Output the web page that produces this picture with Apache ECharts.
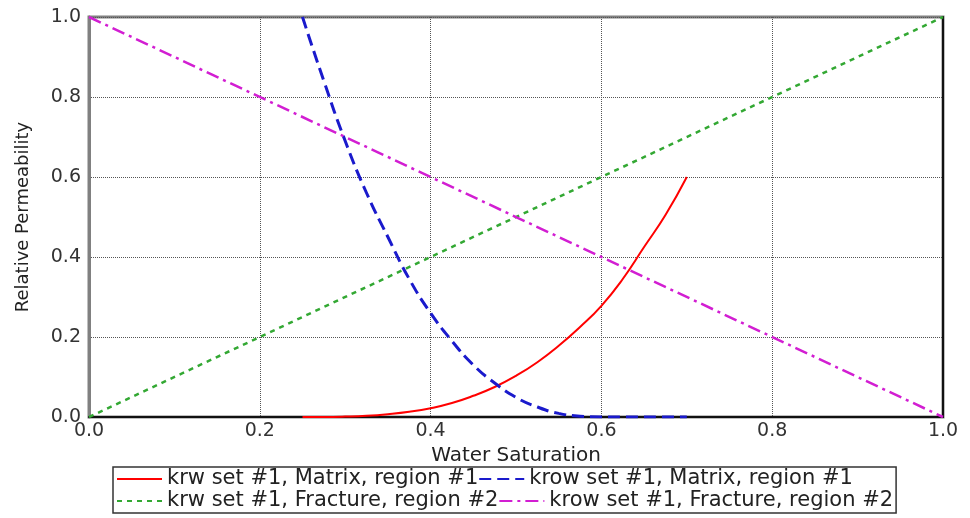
<!DOCTYPE html>
<html>
<head>
<meta charset="utf-8">
<script src="https://cdn.jsdelivr.net/npm/echarts@6/dist/echarts.min.js"></script>
<style>
  html, body { margin: 0; padding: 0; background: #fff; }
  #chart { width: 970px; height: 518px; }
</style>
</head>
<body>
<div id="chart"></div>
<script>
// water saturation points for the matrix curves
var swMatrix = [0.25, 0.275, 0.3, 0.325, 0.35, 0.375, 0.4, 0.425, 0.45, 0.475, 0.5,
                0.525, 0.55, 0.575, 0.6, 0.625, 0.65, 0.675, 0.7];
var krwMatrix = [0, 0.0001, 0.001, 0.003, 0.007, 0.013, 0.022, 0.035, 0.053, 0.075, 0.103,
                 0.137, 0.178, 0.225, 0.278, 0.345, 0.425, 0.505, 0.6];
var krowMatrix = [1.0, 0.84, 0.69, 0.56, 0.45, 0.345, 0.26, 0.19, 0.13, 0.085, 0.049,
                  0.025, 0.009, 0.002, 0, 0, 0, 0, 0];
// fracture curves (straight lines)
var swFracture = [0, 1];
var krwFracture = [0, 1];
var krowFracture = [1, 0];

var seriesNames = [
  'krw set #1, Matrix, region #1',
  'krow set #1, Matrix, region #1',
  'krw set #1, Fracture, region #2',
  'krow set #1, Fracture, region #2'
];

function pairs(xs, ys) {
  var out = [];
  for (var i = 0; i < xs.length; i++) out.push([xs[i], ys[i]]);
  return out;
}

var labelFont = 'DejaVu Sans';

var chart = echarts.init(document.getElementById('chart'));
var option = {
  backgroundColor: '#fff',
  animation: false,
  grid: {
    left: 89, right: 27, top: 17, bottom: 101,
    show: true, borderColor: '#808080', borderWidth: 3
  },
  legend: {
    left: 113, top: 467,
    width: 820,
    itemGap: 0,
    itemWidth: 45,
    itemHeight: 14,
    padding: [1, 3, 1, 3],
    borderColor: '#333',
    borderWidth: 1.5,
    itemStyle: { opacity: 0 },
    textStyle: { fontFamily: labelFont, fontSize: 21, color: '#222', lineHeight: 22 },
    data: seriesNames
  },
  xAxis: {
    type: 'value', min: 0, max: 1, interval: 0.2,
    name: 'Water Saturation', nameLocation: 'middle', nameGap: 22,
    nameTextStyle: { fontFamily: labelFont, fontSize: 20, color: '#222' },
    axisLine: { show: true, lineStyle: { color: '#111', width: 2 } },
    axisTick: { show: false },
    axisLabel: {
      margin: 5, fontFamily: labelFont, fontSize: 19, color: '#333',
      formatter: function (v) { return v.toFixed(1); }
    },
    splitLine: { show: true, lineStyle: { type: 'dotted', color: '#555', width: 1 } }
  },
  yAxis: [{
    type: 'value', min: 0, max: 1, interval: 0.2,
    name: 'Relative Permeability', nameLocation: 'middle', nameGap: 57,
    nameTextStyle: { fontFamily: labelFont, fontSize: 18, color: '#222' },
    axisLine: { show: true, lineStyle: { color: '#808080', width: 3 } },
    axisTick: { show: false },
    axisLabel: {
      margin: 8, fontFamily: labelFont, fontSize: 19, color: '#333',
      formatter: function (v) { return v.toFixed(1); }
    },
    splitLine: { show: true, lineStyle: { type: 'dotted', color: '#555', width: 1 } }
  }, {
    type: 'value', min: 0, max: 1, position: 'right',
    axisLine: { show: true, lineStyle: { color: '#111', width: 2 } },
    axisTick: { show: false }, axisLabel: { show: false }, splitLine: { show: false }
  }],
  series: [{
    name: seriesNames[0], type: 'line', showSymbol: false, symbol: 'none',
    smooth: true,
    data: pairs(swMatrix, krwMatrix),
    lineStyle: { color: '#ff0000', width: 2, type: 'solid' },
    itemStyle: { color: '#ff0000' }
  }, {
    name: seriesNames[1], type: 'line', showSymbol: false, symbol: 'none',
    smooth: true,
    data: pairs(swMatrix, krowMatrix),
    lineStyle: { color: '#1a1acc', width: 3, type: [12, 6] },
    itemStyle: { color: '#1a1acc' }
  }, {
    name: seriesNames[2], type: 'line', showSymbol: false, symbol: 'none',
    data: pairs(swFracture, krwFracture),
    lineStyle: { color: '#33a833', width: 2.5, type: [5, 5] },
    itemStyle: { color: '#33a833' }
  }, {
    name: seriesNames[3], type: 'line', showSymbol: false, symbol: 'none',
    data: pairs(swFracture, krowFracture),
    lineStyle: { color: '#d21ed2', width: 2.5, type: [13, 5, 3, 5] },
    itemStyle: { color: '#d21ed2' }
  }]
};
chart.setOption(option);
</script>
</body>
</html>
